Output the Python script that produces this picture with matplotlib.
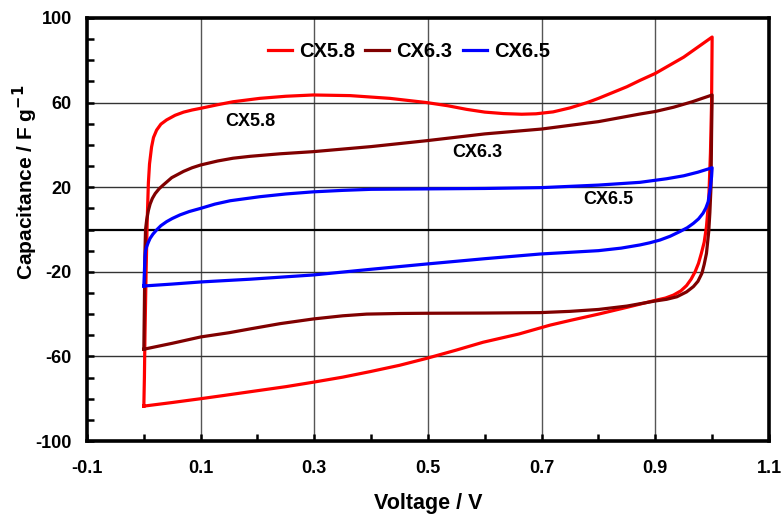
import matplotlib
matplotlib.use("Agg")
import matplotlib.pyplot as plt
from matplotlib.ticker import MultipleLocator, FixedLocator

plt.rcParams["font.family"] = ["Liberation Sans", "DejaVu Sans"]
plt.rcParams["font.weight"] = "bold"
plt.rcParams["axes.unicode_minus"] = False

# CV loops: forward sweep then reverse sweep
cx58_v = [0.000, 0.001, 0.002, 0.004, 0.006, 0.008, 0.010, 0.0136, 0.017, 0.0225, 0.03, 0.04,
          0.055, 0.07, 0.085, 0.10, 0.13, 0.157, 0.204, 0.25, 0.298, 0.363, 0.433, 0.498, 0.535,
          0.568, 0.60, 0.633, 0.665, 0.69, 0.72, 0.75, 0.78, 0.80, 0.85, 0.873, 0.90, 0.95, 1.000,
          0.999, 0.997, 0.994, 0.99, 0.986, 0.981, 0.976, 0.970, 0.963, 0.955, 0.945, 0.932,
          0.918, 0.90, 0.85, 0.80, 0.75, 0.715, 0.66, 0.597, 0.55, 0.498, 0.45, 0.398, 0.35,
          0.298, 0.25, 0.187, 0.14, 0.10, 0.05, 0.000]
cx58_c = [-83.5, -70, -50, -20, 5, 22, 31, 39, 43.5, 47, 49.8, 51.8,
          54, 55.5, 56.5, 57.3, 59, 60.4, 62, 63, 63.6, 63.3, 62, 60, 58.5,
          56.8, 55.5, 54.8, 54.5, 54.7, 55.6, 57.5, 60, 62, 67.5, 70.5, 73.8, 81.5, 91,
          60, 36, 14, 1.3, -6, -11.3, -16, -20, -23.5, -26.5, -29, -31,
          -32.4, -33.5, -36.8, -40, -43, -45.2, -49.4, -53.3, -57, -60.9, -64.2, -67.2, -69.8,
          -72.2, -74.3, -76.7, -78.5, -80, -81.8, -83.5]

cx63_v = [0.000, 0.001, 0.002, 0.003, 0.005, 0.008, 0.011, 0.015, 0.02, 0.027, 0.034, 0.049,
          0.07, 0.085, 0.10, 0.13, 0.157, 0.187, 0.24, 0.298, 0.40, 0.498, 0.60, 0.70, 0.80,
          0.873, 0.90, 0.932, 0.965, 1.000,
          0.999, 0.998, 0.996, 0.994, 0.99, 0.986, 0.982, 0.975, 0.967, 0.955, 0.938, 0.92,
          0.90, 0.85, 0.80, 0.75, 0.697, 0.60, 0.498, 0.45, 0.392, 0.35, 0.298, 0.24, 0.187,
          0.15, 0.10, 0.05, 0.000]
cx63_c = [-56.6, -35, -10, 0, 4.5, 9, 12, 14.7, 17, 19.3, 21, 24.5,
          27.5, 29.2, 30.5, 32.4, 33.7, 34.6, 35.8, 36.8, 39.2, 42, 45.2, 47.5, 51,
          54.6, 55.8, 57.8, 60.4, 63.6,
          45, 20.2, 8, -1, -11.3, -16.5, -20.7, -24.5, -27, -29.5, -31.8, -33,
          -33.8, -36.2, -37.8, -38.7, -39.3, -39.5, -39.6, -39.7, -40, -40.8, -42.3, -44.5, -47,
          -48.8, -50.8, -53.8, -56.6]

cx65_v = [0.000, 0.001, 0.002, 0.003, 0.005, 0.008, 0.011, 0.016, 0.0225, 0.03, 0.04, 0.05,
          0.0636, 0.08, 0.10, 0.125, 0.152, 0.204, 0.25, 0.298, 0.35, 0.40, 0.498, 0.60, 0.70,
          0.80, 0.873, 0.92, 0.95, 0.975, 1.000,
          0.999, 0.997, 0.993, 0.989, 0.984, 0.976, 0.967, 0.956, 0.943, 0.926, 0.908, 0.89,
          0.873, 0.84, 0.80, 0.697, 0.60, 0.498, 0.40, 0.298, 0.187, 0.10, 0.05, 0.000]
cx65_c = [-26.7, -20, -12.8, -10, -8.1, -6, -4.2, -2.2, -0.2, 1.8, 3.7, 5.2,
          6.9, 8.5, 10, 12, 13.6, 15.5, 16.8, 17.8, 18.5, 19, 19.2, 19.4, 19.8,
          21, 22.3, 24, 25.4, 27.1, 29.2,
          25, 20.2, 13.1, 10.2, 7.7, 5, 2.9, 0.8, -1, -3.2, -5, -6.3,
          -7.3, -8.8, -10, -11.6, -13.8, -16.3, -18.8, -21.5, -23.5, -24.8, -25.8, -26.7]

series = [("CX5.8", cx58_v, cx58_c, "#ff0000"),
          ("CX6.3", cx63_v, cx63_c, "#800000"),
          ("CX6.5", cx65_v, cx65_c, "#0000ff")]

# in-plot labels (text, x, y)
labels = [("CX5.8", 0.187, 51.0), ("CX6.3", 0.586, 36.2), ("CX6.5", 0.817, 14.0)]

fig = plt.figure(figsize=(7.81, 5.14), dpi=100)
ax = fig.add_axes([0.1114, 0.142, 0.8732, 0.823])

for x in [0.1, 0.3, 0.5, 0.7, 0.9]:
    ax.axvline(x, color="#555555", lw=1.0, zorder=1)
for y in [-60, -20, 20, 60]:
    ax.axhline(y, color="#333333", lw=1.0, zorder=1)
ax.axhline(0, color="black", lw=1.6, zorder=1)

for name, v, c, col in series:
    ax.plot(v, c, color=col, lw=2.3, label=name, zorder=3, solid_joinstyle="round")

for txt, x, y in labels:
    ax.text(x, y, txt, ha="center", va="center", fontsize=13, fontweight="bold")

ax.set_xlim(-0.1, 1.1)
ax.set_ylim(-100, 100)
ax.xaxis.set_major_locator(FixedLocator([-0.1, 0.1, 0.3, 0.5, 0.7, 0.9, 1.1]))
ax.xaxis.set_minor_locator(FixedLocator([0.0, 0.2, 0.4, 0.6, 0.8, 1.0]))
ax.yaxis.set_major_locator(MultipleLocator(40))
ax.yaxis.set_minor_locator(MultipleLocator(10))
ax.set_xticklabels(["-0.1", "0.1", "0.3", "0.5", "0.7", "0.9", "1.1"])
ax.set_yticks([-100, -60, -20, 20, 60, 100])
ax.set_yticklabels(["-100", "-60", "-20", "20", "60", "100"])

ax.tick_params(which="both", direction="in", top=False, right=False, width=1.8)
ax.tick_params(which="both", length=5)
ax.tick_params(axis="x", which="major", pad=14, labelsize=13)
ax.tick_params(axis="y", which="major", pad=11, labelsize=13)
for s in ax.spines.values():
    s.set_linewidth(2.6)

ax.set_xlabel("Voltage / V", fontsize=15.5, fontweight="bold")
ax.set_ylabel("Capacitance / F g$^{\\mathbf{-1}}$", fontsize=15, fontweight="bold")
ax.xaxis.set_label_coords(0.5, -0.124)
ax.yaxis.set_label_coords(-0.069, 0.611)

ax.legend(loc="center", bbox_to_anchor=(0.472, 0.92), ncol=3, frameon=False,
          handlelength=1.2, handletextpad=0.35, columnspacing=0.5,
          prop={"weight": "bold", "size": 14.5})

fig.savefig("out.png", dpi=100)
